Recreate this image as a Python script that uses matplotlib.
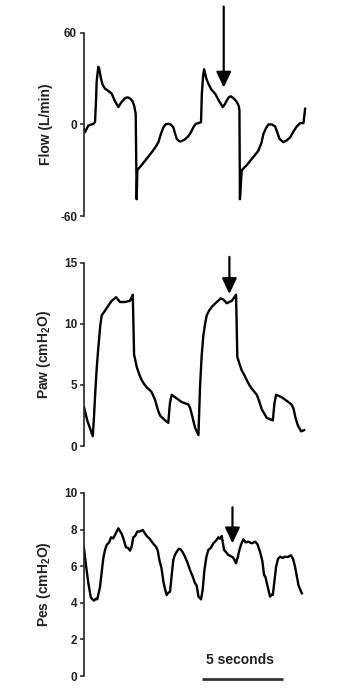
import matplotlib
matplotlib.use("Agg")
import matplotlib.pyplot as plt

plt.rcParams['font.family'] = ['Liberation Sans', 'DejaVu Sans']
plt.rcParams['font.weight'] = 'bold'
plt.rcParams['axes.unicode_minus'] = False

# ---- traces (time in seconds) ----------------------------------------------
flow_t = [0.0, 0.06, 0.27, 0.57, 0.68, 0.74, 0.78, 0.88, 0.93, 1.05, 1.15, 1.30, 1.50, 1.71,
          1.90, 2.12, 2.30, 2.53, 2.70, 2.84, 2.98, 3.09, 3.19, 3.25, 3.29, 3.60, 3.90,
          4.18, 4.40, 4.59, 4.75, 4.90, 5.05, 5.20, 5.35, 5.51, 5.62, 5.72, 5.85, 5.93,
          6.20, 6.44, 6.60, 6.75, 6.90, 7.06, 7.22, 7.27, 7.35, 7.41, 7.55, 7.67, 7.85,
          8.09, 8.30, 8.56, 8.70, 8.81, 8.95, 9.06, 9.25, 9.43, 9.55, 9.59, 9.62, 9.73,
          10.05, 10.35, 10.55, 10.76, 10.95, 11.07, 11.25, 11.38, 11.60, 11.79, 11.92,
          12.06, 12.30, 12.50, 12.72, 12.90, 13.09, 13.33, 13.54, 13.64]
flow_v = [-3, -5, -0.7, 0.4, 1.5, 15, 27.9, 37.8, 37, 30, 26, 23.5, 22, 20.2,
          15.5, 11.4, 14.5, 17.3, 17.8, 17, 15.5, 12.5, 7, -49, -30, -26, -22,
          -18.2, -15, -11.6, -6, -1.8, 0.2, 0.4, 0, -1.8, -6, -9.4, -10.8, -11.2,
          -10, -7.7, -5, -1.8, 0.5, 0.9, 1.5, 20, 32, 36.2, 30, 26.8, 23,
          20.2, 16, 11.4, 13.5, 15.8, 18, 18.5, 17, 14.7, 12, 9.2, -49, -30,
          -26.5, -22.6, -20, -17.1, -12, -6.1, -2, 0, 0, -1.3, -5,
          -9.4, -11.6, -10.5, -8.4, -5, -1.8, 0.9, 0.9, 10.3]

paw_t = [0.0, 0.20, 0.54, 0.60, 0.68, 0.78, 0.88, 1.00, 1.09, 1.25, 1.40, 1.55, 1.71, 1.98,
         2.22, 2.53, 2.84, 3.01, 3.09, 3.25, 3.40, 3.56, 3.70, 3.87, 4.05, 4.18, 4.38,
         4.55, 4.69, 5.00, 5.20, 5.30, 5.41, 5.72, 6.03, 6.44, 6.55, 6.65, 6.85, 7.06,
         7.16, 7.26, 7.36, 7.47, 7.57, 7.72, 7.88, 8.19, 8.44, 8.60, 8.81, 9.12, 9.38,
         9.46, 9.60, 9.73, 9.90, 10.04, 10.20, 10.35, 10.66, 10.80, 10.97, 11.28, 11.65,
         11.75, 11.85, 12.20, 12.61, 12.80, 12.92, 13.05, 13.19, 13.40, 13.58]
paw_v = [3.2, 2.1, 0.8, 2.0, 4.0, 6.3, 8.0, 9.8, 10.7, 11.0, 11.3, 11.6, 11.9, 12.2,
         11.8, 11.8, 11.9, 12.4, 7.5, 6.5, 5.9, 5.4, 5.1, 4.8, 4.6, 4.4, 3.8,
         3.0, 2.5, 2.1, 1.9, 3.5, 4.2, 3.9, 3.6, 3.4, 3.1, 2.6, 1.5, 0.9,
         4.9, 7.4, 9.0, 10.0, 10.7, 11.1, 11.4, 11.8, 12.1, 12.0, 11.7, 11.9, 12.4,
         7.3, 6.7, 6.2, 5.8, 5.4, 5.0, 4.7, 4.2, 3.7, 3.0, 2.3, 2.1,
         3.5, 4.2, 4.0, 3.6, 3.4, 3.1, 2.3, 1.7, 1.2, 1.3]

pes_t = [0.0, 0.12, 0.27, 0.41, 0.50, 0.62, 0.72, 0.82, 0.99, 1.19, 1.30, 1.40, 1.55, 1.67,
         1.80, 1.91, 2.02, 2.12, 2.20, 2.33, 2.45, 2.59, 2.72, 2.84, 2.95, 3.04, 3.15,
         3.29, 3.45, 3.62, 3.75, 3.87, 4.05, 4.18, 4.30, 4.44, 4.55, 4.65, 4.78, 4.90,
         5.00, 5.10, 5.20, 5.31, 5.41, 5.51, 5.60, 5.72, 5.85, 5.97, 6.10, 6.23, 6.38,
         6.54, 6.70, 6.85, 6.95, 7.06, 7.22, 7.32, 7.43, 7.55, 7.67, 7.82, 7.98, 8.15,
         8.29, 8.40, 8.50, 8.64, 8.78, 8.91, 9.05, 9.18, 9.28, 9.38, 9.50, 9.59, 9.70,
         9.83, 9.98, 10.14, 10.35, 10.56, 10.70, 10.86, 11.00, 11.11, 11.20, 11.28,
         11.38, 11.48, 11.58, 11.65, 11.75, 11.85, 11.97, 12.10, 12.25, 12.41, 12.58,
         12.76, 12.90, 13.02, 13.12, 13.23, 13.35, 13.44]
pes_v = [6.98, 6.07, 5.07, 4.34, 4.20, 4.12, 4.22, 4.19, 4.88, 6.43, 6.90, 7.16, 7.30, 7.58,
         7.52, 7.70, 7.90, 8.07, 7.95, 7.76, 7.45, 7.03, 7.00, 6.85, 7.10, 7.58, 7.65,
         7.89, 7.90, 7.98, 7.80, 7.65, 7.50, 7.34, 7.20, 7.07, 6.85, 6.34, 5.90, 5.15,
         4.75, 4.43, 4.55, 4.61, 5.50, 6.34, 6.60, 6.79, 6.95, 6.92, 6.75, 6.52, 6.20,
         5.79, 5.45, 5.07, 4.95, 4.34, 4.19, 4.70, 5.79, 6.50, 6.89, 7.00, 7.25, 7.40,
         7.58, 7.50, 7.65, 6.89, 6.75, 6.61, 6.55, 6.49, 6.35, 6.16, 6.55, 6.89, 7.20,
         7.47, 7.30, 7.34, 7.25, 7.34, 7.20, 6.79, 6.30, 5.52, 5.40, 5.07,
         4.70, 4.34, 4.45, 4.43, 5.20, 5.97, 6.40, 6.52, 6.45, 6.52, 6.50,
         6.60, 6.40, 5.97, 5.50, 4.97, 4.70, 4.52]

# ---- axes settings ---------------------------------------------------------
ylabels = ["Flow (L/min)", r"Paw (cmH$\mathregular{_2}$O)", r"Pes (cmH$\mathregular{_2}$O)"]
ylims = [(-60, 60), (0, 15), (0, 10)]
yticks = [[-60, 0, 60], [0, 5, 10, 15], [0, 2, 4, 6, 8, 10]]
# arrows: (time, tip value, tail value)
arrows = [(8.62, 24.2, 77.3), (8.97, 12.46, 15.5), (9.16, 7.25, 9.22)]
scale_t = (7.28, 12.28)
scale_label = "5 seconds"

fig = plt.figure(figsize=(3.38, 6.97), dpi=100)
bottoms = [0.6901, 0.3601, 0.0301]
axes = [fig.add_axes([0.2485, b, 0.669, 0.2626]) for b in bottoms]

for ax, t, v, lab, yl, yt, arr in zip(axes, [flow_t, paw_t, pes_t], [flow_v, paw_v, pes_v],
                                      ylabels, ylims, yticks, arrows):
    ax.plot(t, v, color="black", lw=1.7, solid_joinstyle="round")
    ax.set_xlim(0, 13.95)
    ax.set_ylim(*yl)
    ax.set_yticks(yt)
    ax.set_xticks([])
    for s in ("top", "right", "bottom"):
        ax.spines[s].set_visible(False)
    ax.spines["left"].set_linewidth(1.2)
    ax.spines["left"].set_color("#222222")
    ax.tick_params(axis="y", length=3, width=1.1, pad=2, labelsize=8.5, color="#222222",
                   labelcolor="#222222")
    for tl in ax.get_yticklabels():
        tl.set_fontweight("bold")
    ax.set_ylabel(lab, fontsize=10, fontweight="bold", color="#222222")
    ax.yaxis.set_label_coords(-0.135, 0.5)
    ax.annotate("", xy=(arr[0], arr[1]), xytext=(arr[0], arr[2]), annotation_clip=False,
                arrowprops=dict(arrowstyle="-|>,head_length=0.95,head_width=0.45",
                                mutation_scale=10, lw=1.6, color="black",
                                shrinkA=0, shrinkB=0))

# scale bar under the Pes trace
pes_ax = axes[2]
pes_ax.plot(scale_t, [-0.16, -0.16], color="#333333", lw=2, clip_on=False,
            solid_capstyle="butt")
pes_ax.text(sum(scale_t) / 2 - 0.15, 0.90, scale_label, ha="center", va="center",
            fontsize=10, fontweight="bold", color="#222222")

fig.savefig("out.png", dpi=100)
